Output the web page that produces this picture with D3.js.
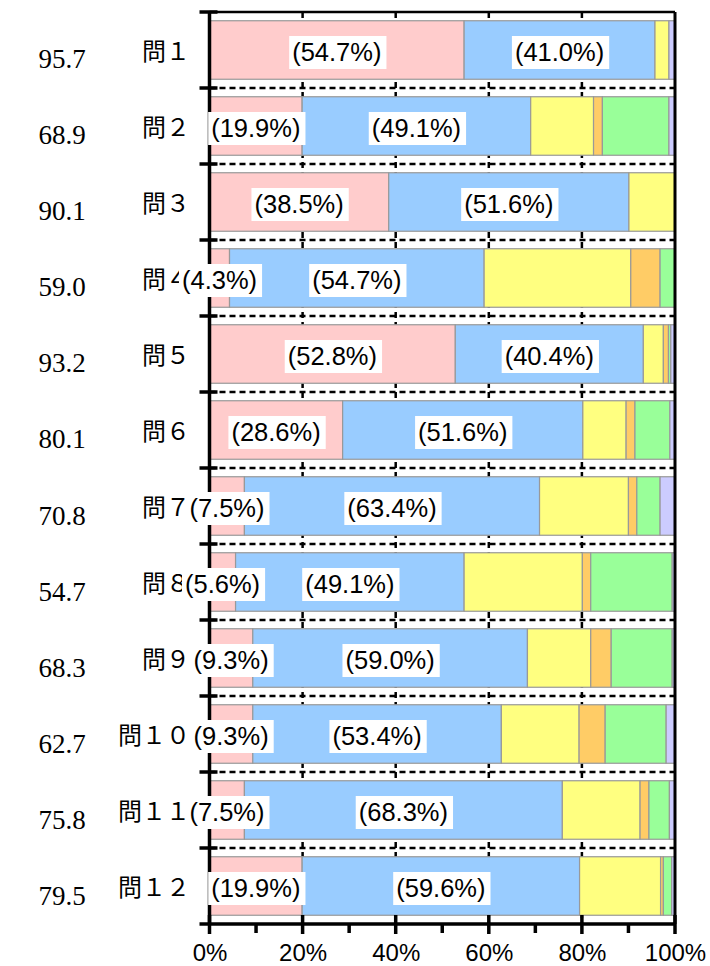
<!DOCTYPE html>
<html>
<head>
<meta charset="utf-8">
<script src="https://cdn.jsdelivr.net/npm/d3@7"></script>
<style>
  html, body { margin: 0; padding: 0; background: #fff; }
  svg { display: block; }
</style>
</head>
<body>
<div id="chart"></div>
<script>
// values
const categories = ["問１", "問２", "問３", "問４", "問５", "問６", "問７", "問８", "問９", "問１０", "問１１", "問１２"];
const totals = [95.7, 68.9, 90.1, 59.0, 93.2, 80.1, 70.8, 54.7, 68.3, 62.7, 75.8, 79.5];
const pink = [54.7, 19.9, 38.5, 4.3, 52.8, 28.6, 7.5, 5.6, 9.3, 9.3, 7.5, 19.9];
const blue = [41.0, 49.1, 51.6, 54.7, 40.4, 51.6, 63.4, 49.1, 59.0, 53.4, 68.3, 59.6];
const yellow = [3.0, 13.5, 9.9, 31.5, 4.3, 9.3, 19.1, 25.4, 13.6, 16.7, 16.7, 17.4];
const orange = [0, 1.9, 0, 6.3, 1.1, 1.9, 1.8, 1.8, 4.4, 5.6, 1.9, 0.6];
const green = [0, 14.3, 0, 3.2, 0.5, 7.5, 5.0, 17.5, 13.1, 13.1, 4.4, 1.8];
const lavender = [1.3, 1.3, 0, 0, 0.9, 1.2, 3.2, 0.6, 0.6, 1.9, 1.2, 0.7];
const xTicks = [0, 20, 40, 60, 80, 100];

const seriesKeys = ["pink", "blue", "yellow", "orange", "green", "lavender"];
const colors = {
  pink: "#ffcccc",
  blue: "#99ccff",
  yellow: "#ffff80",
  orange: "#ffcc66",
  green: "#99ff99",
  lavender: "#ccccff",
};

const rows = categories.map((c, i) => ({
  cat: c,
  pink: pink[i],
  blue: blue[i],
  yellow: yellow[i],
  orange: orange[i],
  green: green[i],
  lavender: lavender[i],
}));

const width = 710;
const height = 966;
const plot = { left: 209.5, right: 675, top: 12, bottom: 924 };

const svg = d3
  .select("#chart")
  .append("svg")
  .attr("width", width)
  .attr("height", height);

const x = d3.scaleLinear().domain([0, 100]).range([plot.left, plot.right]);

const y = d3
  .scaleBand()
  .domain(categories)
  .range([plot.top, plot.bottom])
  .paddingInner(0.23)
  .paddingOuter(0.115);

// baselines of the left-hand totals column
const yTotal = d3.scalePoint().domain(categories).range([68, 905]);

const stacked = d3.stack().keys(seriesKeys)(rows);

// Dotted grid lines (drawn under the bars)
const grid = svg.append("g");
grid
  .selectAll(".vgrid")
  .data([20, 40, 60, 80])
  .enter()
  .append("line")
  .attr("x1", (d) => x(d))
  .attr("x2", (d) => x(d))
  .attr("y1", plot.top)
  .attr("y2", plot.bottom)
  .attr("stroke", "#000")
  .attr("stroke-width", 2.5)
  .attr("stroke-dasharray", "6,4");

const boundaries = categories.slice(1).map((c) => y(c) - (y.step() * y.paddingInner()) / 2);

grid
  .selectAll(".hgrid")
  .data(boundaries)
  .enter()
  .append("line")
  .attr("x1", plot.left)
  .attr("x2", plot.right)
  .attr("y1", (d) => d)
  .attr("y2", (d) => d)
  .attr("stroke", "#000")
  .attr("stroke-width", 2.5)
  .attr("stroke-dasharray", "6,4");

// Bars
svg
  .append("g")
  .selectAll("g")
  .data(stacked)
  .enter()
  .append("g")
  .attr("fill", (s) => colors[s.key])
  .selectAll("rect")
  .data((s) => s.filter((d) => d[1] - d[0] > 0))
  .enter()
  .append("rect")
  .attr("x", (d) => x(d[0]))
  .attr("y", (d) => y(d.data.cat))
  .attr("width", (d) => Math.max(0, x(Math.min(100, d[1])) - x(d[0])))
  .attr("height", y.bandwidth())
  .attr("stroke", "#999")
  .attr("stroke-width", 1.2);

// Frame: top and right borders
svg
  .append("line")
  .attr("x1", plot.left)
  .attr("x2", plot.right)
  .attr("y1", plot.top)
  .attr("y2", plot.top)
  .attr("stroke", "#000")
  .attr("stroke-width", 2.5);

svg
  .append("line")
  .attr("x1", plot.right)
  .attr("x2", plot.right)
  .attr("y1", plot.top)
  .attr("y2", plot.bottom)
  .attr("stroke", "#000")
  .attr("stroke-width", 3);

// Left axis with ticks at row boundaries
const leftAxis = svg.append("g");
leftAxis
  .append("line")
  .attr("x1", plot.left)
  .attr("x2", plot.left)
  .attr("y1", plot.top)
  .attr("y2", plot.bottom)
  .attr("stroke", "#000")
  .attr("stroke-width", 3.5);

leftAxis
  .selectAll(".ltick")
  .data([plot.top].concat(boundaries))
  .enter()
  .append("line")
  .attr("x1", plot.left - 10)
  .attr("x2", plot.left + 8)
  .attr("y1", (d) => d)
  .attr("y2", (d) => d)
  .attr("stroke", "#000")
  .attr("stroke-width", 3.5);

// Bottom axis
const bottomAxis = svg
  .append("g")
  .attr("transform", `translate(0, ${plot.bottom})`)
  .call(
    d3
      .axisBottom(x)
      .tickValues(xTicks)
      .tickSize(0)
      .tickPadding(37)
      .tickFormat((d) => d + "%")
  );

bottomAxis.select(".domain").remove();
bottomAxis
  .selectAll("text")
  .attr("fill", "#000")
  .style("font-family", "'Liberation Sans', Arial, sans-serif")
  .style("font-size", "24px")
  .attr("dy", 0);

bottomAxis
  .append("line")
  .attr("x1", plot.left - 10)
  .attr("x2", plot.right)
  .attr("y1", 0)
  .attr("y2", 0)
  .attr("stroke", "#000")
  .attr("stroke-width", 3.5);

bottomAxis
  .selectAll(".major")
  .data(xTicks)
  .enter()
  .append("line")
  .attr("x1", (d) => x(d))
  .attr("x2", (d) => x(d))
  .attr("y1", -9)
  .attr("y2", 10)
  .attr("stroke", "#000")
  .attr("stroke-width", 3.5);

bottomAxis
  .selectAll(".minor")
  .data([10, 30, 50, 70, 90])
  .enter()
  .append("line")
  .attr("x1", (d) => x(d))
  .attr("x2", (d) => x(d))
  .attr("y1", 0)
  .attr("y2", 9)
  .attr("stroke", "#000")
  .attr("stroke-width", 3.5);

// Totals column (serif)
svg
  .append("g")
  .selectAll("text")
  .data(categories)
  .enter()
  .append("text")
  .attr("x", 62)
  .attr("y", (d) => yTotal(d))
  .attr("text-anchor", "middle")
  .style("font-family", "'Liberation Serif', 'Times New Roman', serif")
  .style("font-size", "27px")
  .attr("fill", "#000")
  .text((d, i) => totals[i].toFixed(1));

// Category labels
svg
  .append("g")
  .selectAll("text")
  .data(categories)
  .enter()
  .append("text")
  .attr("x", 190)
  .attr("y", (d) => y(d) + y.bandwidth() / 2 + 10)
  .attr("text-anchor", "end")
  .style("font-family", "'Noto Sans CJK JP', 'Noto Sans', sans-serif")
  .style("font-size", "24px")
  .attr("fill", "#000")
  .text((d) => d);

// Value labels on pink and blue segments, white box behind
const labelData = stacked
  .filter((s) => s.key === "pink" || s.key === "blue")
  .flatMap((s) => s.map((d) => ({ cat: d.data.cat, v: d[1] - d[0], mid: (d[0] + d[1]) / 2 })));

const labels = svg
  .append("g")
  .selectAll("g")
  .data(labelData)
  .enter()
  .append("g")
  .attr("transform", (d) => `translate(${x(d.mid)}, ${y(d.cat) + y.bandwidth() / 2})`);

const boxes = labels.append("rect").attr("fill", "#fff");

labels
  .append("text")
  .attr("text-anchor", "middle")
  .attr("y", 11)
  .style("font-family", "'Liberation Sans', Arial, sans-serif")
  .style("font-size", "25.5px")
  .attr("fill", "#000")
  .text((d) => `(${d.v.toFixed(1)}%)`)
  .each(function () {
    const w = this.getComputedTextLength();
    d3.select(this.parentNode)
      .select("rect")
      .attr("x", -w / 2 - 3)
      .attr("y", -14)
      .attr("width", w + 8)
      .attr("height", 33);
  });
</script>
</body>
</html>
